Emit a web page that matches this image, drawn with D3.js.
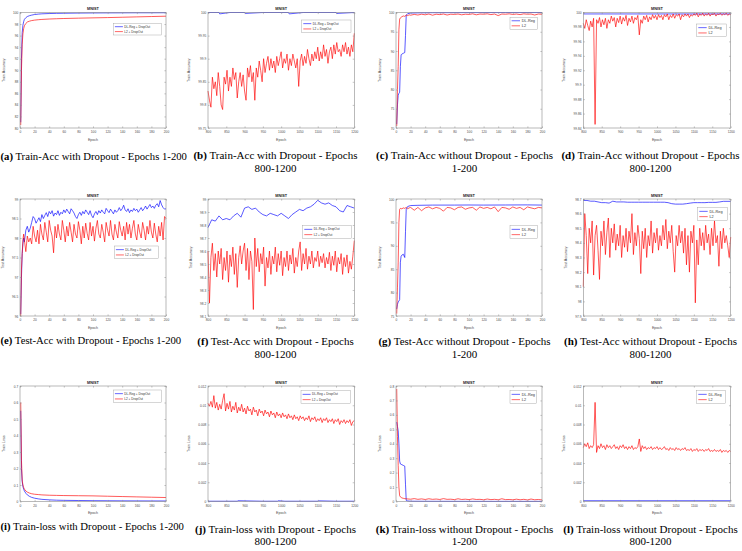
<!DOCTYPE html>
<html>
<head>
<meta charset="utf-8">
<script src="https://cdn.jsdelivr.net/npm/d3@7"></script>
<style>
  body { margin: 0; background: #fff; }
  svg { display: block; }
</style>
</head>
<body>
<div id="fig"></div>
<script>
// ---------- data ----------
const epochsLate = d3.range(800, 1201, 4);     // 800..1200 every 4 epochs
const epochsLate10 = d3.range(800, 1201, 10);  // 800..1200 every 10 epochs
const epochsE = [1, 2, 3, 4, 5].concat(d3.range(6, 201, 2));
const epochsEarly = [1, 2, 3, 4, 5, 6, 8, 10, 13, 16, 20, 25, 30, 40, 50, 60, 80, 100, 120, 140, 160, 180, 200];
const epochsNoisy = [1, 2, 3, 4, 5, 6, 8, 10, 12, 14, 16, 18, 20].concat(d3.range(25, 201, 5));
const epochsK = [1, 2, 3, 4, 5, 6, 8, 10, 12, 15, 20].concat(d3.range(25, 201, 5));

const xTicksEarly = [0, 20, 40, 60, 80, 100, 120, 140, 160, 180, 200];
const xTicksLate = [800, 850, 900, 950, 1000, 1050, 1100, 1150, 1200];

// (a) train acc, dropout, 1-200
const aBlue = [81, 92, 96.5, 97.8, 98.4, 98.8, 99.1, 99.3, 99.45, 99.55, 99.65, 99.72, 99.77, 99.82, 99.85, 99.87, 99.9, 99.92, 99.93, 99.94, 99.95, 99.95, 99.96];
const aRed = [80.5, 90, 94.5, 96.3, 97.2, 97.7, 98.1, 98.35, 98.5, 98.6, 98.68, 98.75, 98.8, 98.87, 98.92, 98.96, 99.02, 99.07, 99.12, 99.18, 99.24, 99.3, 99.36];

// (b) train acc, dropout, 800-1200
const bBlueX = [800, 830, 832, 860, 900, 902, 950, 1000, 1020, 1022, 1060, 1100, 1150, 1152, 1200];
const bBlue = [100, 100, 99.997, 100, 100, 99.998, 100, 100, 100, 99.997, 100, 100, 100, 99.998, 100];
const bRed = [99.83, 99.81, 99.795, 99.86, 99.835, 99.85, 99.82, 99.87, 99.84, 99.8, 99.79, 99.86, 99.845, 99.875, 99.83, 99.86, 99.84, 99.88, 99.855, 99.87,
  99.815, 99.85, 99.87, 99.84, 99.865, 99.83, 99.81, 99.88, 99.86, 99.885, 99.85, 99.87, 99.81, 99.88, 99.86, 99.895, 99.875, 99.85, 99.9, 99.87,
  99.89, 99.905, 99.875, 99.9, 99.88, 99.895, 99.87, 99.905, 99.885, 99.9, 99.915, 99.88, 99.9, 99.89, 99.91, 99.875, 99.9, 99.885, 99.91, 99.895,
  99.88, 99.9, 99.84, 99.895, 99.91, 99.885, 99.905, 99.89, 99.92, 99.9, 99.885, 99.91, 99.895, 99.915, 99.9, 99.925, 99.895, 99.915, 99.9, 99.93,
  99.905, 99.92, 99.89, 99.915, 99.925, 99.9, 99.93, 99.91, 99.935, 99.915, 99.92, 99.905, 99.93, 99.915, 99.935, 99.91, 99.925, 99.905, 99.93, 99.915, 99.955];

// (c) train acc, no dropout, 1-200
const cBlueX = [1, 2, 3, 4, 5, 6, 7, 8, 10, 12, 13, 14, 16, 20, 30, 50, 100, 150, 200];
const cBlue = [71, 76, 78.5, 79, 79.3, 86, 89, 89.2, 89.4, 89.6, 94, 99.3, 99.7, 99.85, 99.9, 99.95, 99.97, 99.98, 99.98];
const cRed = [70.5, 80, 86, 95.5, 98.3, 98.6, 98.9, 99.1, 99.0, 99.3, 99.2, 99.4, 99.3,
  99.5, 99.35, 99.55, 99.4, 99.6, 99.3, 99.55, 99.45, 99.6, 99.35, 99.55, 99.5, 99.6, 99.4, 99.55, 99.5, 99.65, 99.4, 99.6, 99.55,
  99.65, 99.45, 99.6, 99.2, 99.6, 99.55, 99.65, 99.5, 99.6, 99.45, 99.65, 99.55, 99.6, 99.35, 99.6, 99.55];

// (d) train acc, no dropout, 800-1200
const dBlueX = [800, 1200];
const dBlue = [99.998, 99.998];
const dRed = [99.985, 99.978, 99.99, 99.982, 99.975, 99.988, 99.98, 99.992, 99.845, 99.99, 99.985, 99.993, 99.98, 99.99, 99.983, 99.992, 99.978, 99.99, 99.985, 99.995,
  99.988, 99.993, 99.98, 99.992, 99.986, 99.995, 99.984, 99.993, 99.988, 99.996, 99.982, 99.992, 99.987, 99.995, 99.985, 99.993, 99.99, 99.996, 99.969, 99.99,
  99.985, 99.995, 99.99, 99.996, 99.987, 99.994, 99.99, 99.997, 99.992, 99.996, 99.99, 99.997, 99.993, 99.996, 99.99, 99.997, 99.994, 99.998, 99.99, 99.996,
  99.993, 99.998, 99.992, 99.997, 99.995, 99.998, 99.99, 99.997, 99.994, 99.998, 99.995, 99.998, 99.993, 99.997, 99.995, 99.998, 99.996, 99.999, 99.994, 99.998,
  99.996, 99.999, 99.995, 99.998, 99.996, 99.999, 99.995, 99.998, 99.997, 99.999, 99.995, 99.998, 99.997, 99.999, 99.996, 99.998, 99.997, 99.999, 99.996, 99.998, 99.997];

// (e) test acc, dropout, 1-200
const eBlue = [96.05, 97.0, 97.6, 97.85, 98.0, 97.9, 98.2, 98.3, 98.15, 98.25, 98.4, 98.55, 98.5, 98.38, 98.45, 98.52, 98.42, 98.6, 98.5, 98.58,
  98.65, 98.55, 98.68, 98.62, 98.7, 98.56, 98.64, 98.6, 98.7, 98.58, 98.66, 98.62, 98.72, 98.65, 98.74, 98.68, 98.62, 98.75, 98.7, 98.64,
  98.55, 98.5, 98.6, 98.66, 98.58, 98.68, 98.62, 98.72, 98.66, 98.6, 98.7, 98.58, 98.52, 98.62, 98.68, 98.6, 98.7, 98.64, 98.72, 98.66,
  98.62, 98.76, 98.7, 98.65, 98.74, 98.68, 98.62, 98.72, 98.66, 98.7, 98.78, 98.7, 98.75, 98.84, 98.72, 98.68, 98.75, 98.65, 98.72, 98.68,
  98.76, 98.7, 98.74, 98.66, 98.72, 98.78, 98.7, 98.75, 98.82, 98.74, 98.8, 98.86, 98.78, 98.82, 98.76, 98.84, 98.88, 98.8, 98.96, 98.85,
  98.78, 98.74, 98.75];
const eRed = [96.0, 97.2, 97.6, 97.95, 98.1, 97.95, 97.65, 98.05, 97.9, 98.0, 97.85, 98.3, 98.05, 97.9, 98.2, 97.85, 98.35, 98.1, 97.95, 98.4,
  98.15, 97.9, 98.45, 98.2, 98.05, 97.62, 98.3, 98.0, 98.35, 98.1, 97.95, 98.45, 98.2, 97.9, 98.3, 98.05, 98.4, 98.15, 97.9, 98.35,
  98.1, 98.0, 98.42, 98.2, 97.85, 98.3, 98.0, 98.38, 98.12, 97.95, 98.4, 98.05, 98.3, 97.92, 98.25, 98.45, 98.1, 98.0, 98.35, 98.15,
  97.9, 98.4, 98.2, 98.05, 98.45, 98.1, 97.95, 98.35, 98.15, 98.0, 98.42, 98.2, 98.05, 98.3, 97.95, 98.4, 98.1, 98.35, 98.0, 98.25,
  98.45, 98.1, 97.95, 98.35, 98.15, 98.0, 98.4, 98.2, 97.95, 98.3, 98.1, 98.45, 98.15, 98.0, 98.38, 98.1, 97.9, 98.3, 98.05, 98.4,
  97.95, 98.55, 98.5];

// (f) test acc, dropout, 800-1200
const fBlue = [98.78, 98.84, 98.83, 98.87, 98.84, 98.85, 98.84, 98.87, 98.89, 98.86, 98.93, 98.94, 98.92, 98.93, 98.9, 98.88, 98.87, 98.89, 98.88, 98.87,
  98.89, 98.87, 98.85, 98.88, 98.9, 98.92, 98.91, 98.93, 98.94, 98.96, 98.99, 98.97, 98.96, 98.97, 98.95, 98.94, 98.91, 98.9, 98.95, 98.94, 98.93];
const fRed = [98.6, 98.2, 98.55, 98.66, 98.45, 98.58, 98.4, 98.6, 98.5, 98.62, 98.38, 98.55, 98.45, 98.6, 98.36, 98.57, 98.48, 98.63, 98.42, 98.58,
  98.32, 98.55, 98.64, 98.5, 98.6, 98.66, 98.45, 98.62, 98.38, 98.6, 98.52, 98.15, 98.7, 98.48, 98.62, 98.44, 98.58, 98.5, 98.63, 98.33,
  98.55, 98.47, 98.6, 98.42, 98.56, 98.5, 98.63, 98.44, 98.58, 98.49, 98.6, 98.41, 98.55, 98.48, 98.6, 98.45, 98.57, 98.5, 98.62, 98.43,
  98.55, 98.48, 98.6, 98.67, 98.45, 98.58, 98.5, 98.62, 98.46, 98.56, 98.5, 98.6, 98.47, 98.55, 98.52, 98.6, 98.48, 98.56, 98.51, 98.58,
  98.47, 98.55, 98.5, 98.59, 98.45, 98.56, 98.49, 98.6, 98.44, 98.55, 98.5, 98.58, 98.42, 98.55, 98.48, 98.57, 98.43, 98.52, 98.46, 98.56, 98.68];

// (g) test acc, no dropout, 1-200
const gBlueX = [1, 2, 3, 4, 5, 6, 7, 8, 10, 12, 13, 14, 16, 20, 30, 50, 80, 100, 120, 150, 180, 200];
const gBlue = [76.5, 77.5, 78, 78.2, 78.5, 86.5, 87.8, 88, 88.2, 87.5, 93, 97.8, 98.4, 98.6, 98.65, 98.7, 98.7, 98.72, 98.7, 98.72, 98.74, 98.7];
const gRed = [75.5, 81, 86.5, 95, 97.8, 98.0, 97.9, 98.1, 98.0, 98.2, 97.9, 98.1, 98.2,
  97.6, 98.2, 97.5, 98.1, 98.3, 97.9, 98.2, 98.0, 97.4, 98.2, 98.1, 97.7, 98.2, 98.3, 97.8, 98.1, 98.2, 97.6, 98.3, 98.0,
  98.2, 97.9, 98.3, 97.3, 98.2, 98.1, 97.8, 98.3, 98.0, 98.2, 97.7, 98.3, 98.1, 97.9, 98.2, 98.1];

// (h) test acc, no dropout, 800-1200
const hBlue = [98.69, 98.69, 98.685, 98.685, 98.68, 98.675, 98.675, 98.672, 98.685, 98.68, 98.68, 98.68, 98.678, 98.678, 98.678, 98.678, 98.678, 98.678, 98.678, 98.678,
  98.678, 98.678, 98.678, 98.675, 98.668, 98.665, 98.665, 98.665, 98.668, 98.672, 98.675, 98.675, 98.675, 98.675, 98.677, 98.677, 98.677, 98.68, 98.684, 98.684, 98.684];
const hRed = [98.1, 98.6, 98.45, 98.19, 98.5, 98.4, 98.55, 98.18, 98.45, 98.52, 98.35, 98.15, 98.48, 98.38, 98.55, 98.32, 98.47, 98.57, 98.3, 98.5,
  98.4, 98.53, 98.35, 98.46, 98.38, 98.52, 98.3, 98.45, 98.37, 98.5, 98.34, 98.48, 98.4, 98.6, 98.32, 98.47, 98.38, 98.52, 98.43, 98.19,
  98.48, 98.36, 98.5, 98.3, 98.45, 98.38, 98.55, 98.33, 98.47, 98.4, 98.5, 98.35, 98.45, 98.38, 98.52, 98.42, 98.56, 98.36, 98.48, 98.4,
  98.52, 98.34, 98.2, 98.45, 98.38, 98.52, 98.4, 98.48, 98.33, 98.5, 98.25, 98.45, 98.2, 98.48, 98.4, 98.52, 97.99, 98.42, 98.25, 98.5,
  98.38, 98.47, 98.35, 98.52, 98.4, 98.46, 98.32, 98.5, 98.38, 98.55, 98.4, 98.45, 98.24, 98.48, 98.36, 98.5, 98.4, 98.45, 98.38, 98.3, 98.44];

// (i) train loss, dropout, 1-200
const iBlue = [0.55, 0.2, 0.12, 0.09, 0.075, 0.064, 0.05, 0.04, 0.031, 0.025, 0.02, 0.016, 0.013, 0.01, 0.008, 0.007, 0.006, 0.005, 0.0045, 0.004, 0.0037, 0.0035, 0.0033];
const iRed = [0.6, 0.25, 0.13, 0.1, 0.085, 0.075, 0.064, 0.057, 0.051, 0.047, 0.044, 0.042, 0.04, 0.038, 0.037, 0.036, 0.035, 0.034, 0.032, 0.03, 0.028, 0.026, 0.024];

// (j) train loss, dropout, 800-1200
const jBlueX = [800, 880, 882, 950, 990, 992, 1010, 1060, 1100, 1102, 1150, 1200];
const jBlue = [0.00003, 0.00003, 0.00008, 0.00003, 0.00003, 0.00008, 0.00003, 0.00003, 0.00003, 0.00007, 0.00003, 0.00003];
const jRed = [0.0102, 0.0099, 0.0104, 0.0098, 0.011, 0.0097, 0.0103, 0.0095, 0.0101, 0.0096, 0.0105, 0.0112, 0.0094, 0.0102, 0.0096, 0.0104, 0.0093, 0.0099, 0.0095, 0.0103,
  0.0092, 0.0098, 0.0094, 0.0101, 0.0093, 0.0097, 0.0091, 0.0099, 0.0094, 0.0096, 0.009, 0.0098, 0.0093, 0.0095, 0.0089, 0.0096, 0.0092, 0.0094, 0.0089, 0.0095,
  0.0091, 0.0093, 0.0088, 0.0094, 0.009, 0.0092, 0.0087, 0.0093, 0.0089, 0.0091, 0.0087, 0.0092, 0.0088, 0.009, 0.0086, 0.0091, 0.0087, 0.0089, 0.0085, 0.009,
  0.0086, 0.0088, 0.0084, 0.0089, 0.0086, 0.0088, 0.0084, 0.0087, 0.0085, 0.0089, 0.0083, 0.0087, 0.0085, 0.0088, 0.0083, 0.0086, 0.0084, 0.0087, 0.0082, 0.0086,
  0.0084, 0.0087, 0.0082, 0.0085, 0.0083, 0.0086, 0.0081, 0.0085, 0.0083, 0.0086, 0.008, 0.0084, 0.0082, 0.0085, 0.0081, 0.0084, 0.0082, 0.0085, 0.0079, 0.0083, 0.0084];

// (k) train loss, no dropout, 1-200
const kBlueX = [1, 2, 3, 4, 5, 6, 8, 10, 12, 13, 14, 16, 20, 40, 100, 200];
const kBlue = [0.55, 0.52, 0.49, 0.4, 0.28, 0.26, 0.255, 0.25, 0.245, 0.12, 0.008, 0.004, 0.002, 0.0015, 0.001, 0.001];
const kRed = [0.78, 0.45, 0.25, 0.1, 0.04, 0.032, 0.025, 0.022, 0.02, 0.018, 0.016,
  0.02, 0.015, 0.018, 0.014, 0.019, 0.015, 0.017, 0.014, 0.02, 0.015, 0.016, 0.013, 0.019, 0.014, 0.016, 0.013, 0.018, 0.014,
  0.015, 0.012, 0.017, 0.013, 0.015, 0.012, 0.019, 0.013, 0.014, 0.012, 0.016, 0.012, 0.015, 0.011, 0.017, 0.012, 0.014, 0.011];

// (l) train loss, no dropout, 800-1200
const lBlueX = [800, 1200];
const lBlue = [0.00008, 0.00008];
const lRed = [0.0056, 0.006, 0.0057, 0.0061, 0.0055, 0.0058, 0.0056, 0.0059, 0.0103, 0.0051, 0.0058, 0.0055, 0.006, 0.0056, 0.0058, 0.0054, 0.0059, 0.0056, 0.0058, 0.0055,
  0.0057, 0.0059, 0.0055, 0.0057, 0.0054, 0.0058, 0.0056, 0.0059, 0.0055, 0.0057, 0.0054, 0.0057, 0.0055, 0.0058, 0.0054, 0.0056, 0.0055, 0.0057, 0.0065, 0.0052,
  0.0058, 0.0055, 0.0057, 0.0054, 0.0056, 0.0055, 0.0057, 0.0054, 0.0056, 0.0055, 0.0057, 0.0054, 0.0056, 0.0054, 0.0055, 0.0057, 0.0054, 0.0055, 0.0053, 0.0056,
  0.0054, 0.0055, 0.0053, 0.0056, 0.0054, 0.0055, 0.0053, 0.0055, 0.0054, 0.0056, 0.0053, 0.0054, 0.0053, 0.0055, 0.0052, 0.0054, 0.0053, 0.0055, 0.0052, 0.0054,
  0.0053, 0.0054, 0.0052, 0.0054, 0.0053, 0.0055, 0.0052, 0.0053, 0.0052, 0.0054, 0.0052, 0.0053, 0.0052, 0.0054, 0.0051, 0.0053, 0.0052, 0.0053, 0.0051, 0.0053, 0.0052];

const legDrop = ["DL-Reg + DropOut", "L2 + DropOut"];
const legNoDrop = ["DL-Reg", "L2"];

// ---------- layout / style ----------
const BLUE = "#0000ff", RED = "#ff0000";
const axisColor = "#8a8a8a", tickColor = "#4a4a4a";
const sans = "Liberation Sans, Arial, sans-serif";
const serif = "Liberation Serif, Times New Roman, serif";
const colX = [20, 208, 396, 583.3];
const colW = [146, 146.3, 146, 147.4];
const capCx = [87, 275.5, 464.5, 650.5];
const rowY = [12.5, 199, 386];
const rowH = [115.5, 117, 115.5];
const capY1 = [160.2, 343.5, 530.2];           // single-line captions
const capY2 = [[159.2, 171.8], [345, 357.8], [532.8, 545.2]];

const panels = [
  { r: 0, c: 0, tag: "(a)", cap: ["Train-Acc with Dropout - Epochs 1-200"], yLabel: "Train Accuracy",
    xd: [0, 200], xt: xTicksEarly, yd: [80, 100], yt: [80, 82, 84, 86, 88, 90, 92, 94, 96, 98, 100],
    leg: legDrop, lb: [93.3, 10.8, 48.4, 11.7],
    s: [[epochsEarly, aBlue, BLUE], [epochsEarly, aRed, RED]] },
  { r: 0, c: 1, tag: "(b)", cap: ["Train-Acc with Dropout - Epochs", "800-1200"], yLabel: "Train Accuracy",
    xd: [800, 1200], xt: xTicksLate, yd: [99.75, 100], yt: [99.75, 99.8, 99.85, 99.9, 99.95, 100],
    leg: legDrop, lb: [93.7, 7.5, 49.3, 12.6],
    s: [[bBlueX, bBlue, BLUE], [epochsLate, bRed, RED]] },
  { r: 0, c: 2, tag: "(c)", cap: ["Train-Acc without Dropout - Epochs", "1-200"], yLabel: "Train Accuracy",
    xd: [0, 200], xt: xTicksEarly, yd: [70, 100], yt: [70, 75, 80, 85, 90, 95, 100],
    leg: legNoDrop, lb: [114, 4.8, 27.3, 12],
    s: [[cBlueX, cBlue, BLUE], [epochsNoisy, cRed, RED]] },
  { r: 0, c: 3, tag: "(d)", cap: ["Train-Acc without Dropout - Epochs", "800-1200"], yLabel: "Train Accuracy",
    xd: [800, 1200], xt: xTicksLate, yd: [99.84, 100], yt: [99.84, 99.86, 99.88, 99.9, 99.92, 99.94, 99.96, 99.98, 100],
    leg: legNoDrop, lb: [113.4, 11.5, 30, 12.6],
    s: [[dBlueX, dBlue, BLUE], [epochsLate, dRed, RED]] },
  { r: 1, c: 0, tag: "(e)", cap: ["Test-Acc with Dropout - Epochs 1-200"], yLabel: "Test Accuracy",
    xd: [0, 200], xt: xTicksEarly, yd: [96, 99], yt: [96, 96.5, 97, 97.5, 98, 98.5, 99],
    leg: legDrop, lb: [94.3, 47, 44, 12.6],
    s: [[epochsE, eBlue, BLUE], [epochsE, eRed, RED]] },
  { r: 1, c: 1, tag: "(f)", cap: ["Test-Acc with Dropout - Epochs", "800-1200"], yLabel: "Test Accuracy",
    xd: [800, 1200], xt: xTicksLate, yd: [98.1, 99], yt: [98.1, 98.2, 98.3, 98.4, 98.5, 98.6, 98.7, 98.8, 98.9, 99],
    leg: legDrop, lb: [94.7, 26.7, 49, 12.6],
    s: [[epochsLate10, fBlue, BLUE], [epochsLate, fRed, RED]] },
  { r: 1, c: 2, tag: "(g)", cap: ["Test-Acc without Dropout - Epochs", "1-200"], yLabel: "Test Accuracy",
    xd: [0, 200], xt: xTicksEarly, yd: [75, 100], yt: [75, 80, 85, 90, 95, 100],
    leg: legNoDrop, lb: [114, 26.7, 27.3, 12.6],
    s: [[gBlueX, gBlue, BLUE], [epochsNoisy, gRed, RED]] },
  { r: 1, c: 3, tag: "(h)", cap: ["Test-Acc without Dropout - Epochs", "800-1200"], yLabel: "Test Accuracy",
    xd: [800, 1200], xt: xTicksLate, yd: [97.9, 98.7], yt: [97.9, 98, 98.1, 98.2, 98.3, 98.4, 98.5, 98.6, 98.7],
    leg: legNoDrop, lb: [114.4, 8.7, 29.6, 12.6],
    s: [[epochsLate10, hBlue, BLUE], [epochsLate, hRed, RED]] },
  { r: 2, c: 0, tag: "(i)", cap: ["Train-loss with Dropout - Epochs 1-200"], yLabel: "Train Loss",
    xd: [0, 200], xt: xTicksEarly, yd: [0, 0.7], yt: [0, 0.1, 0.2, 0.3, 0.4, 0.5, 0.6, 0.7],
    leg: legDrop, lb: [93.3, 4, 48.4, 12.6],
    s: [[epochsEarly, iBlue, BLUE], [epochsEarly, iRed, RED]] },
  { r: 2, c: 1, tag: "(j)", cap: ["Train-loss with Dropout - Epochs", "800-1200"], yLabel: "Train Loss",
    xd: [800, 1200], xt: xTicksLate, yd: [0, 0.012], yt: [0, 0.002, 0.004, 0.006, 0.008, 0.01, 0.012],
    leg: legDrop, lb: [93, 4.7, 49.7, 12.6],
    s: [[jBlueX, jBlue, BLUE], [epochsLate, jRed, RED]] },
  { r: 2, c: 2, tag: "(k)", cap: ["Train-loss without Dropout - Epochs", "1-200"], yLabel: "Train Loss",
    xd: [0, 200], xt: xTicksEarly, yd: [0, 0.8], yt: [0, 0.1, 0.2, 0.3, 0.4, 0.5, 0.6, 0.7, 0.8],
    leg: legNoDrop, lb: [114, 4.7, 26.7, 12.6],
    s: [[kBlueX, kBlue, BLUE], [epochsK, kRed, RED]] },
  { r: 2, c: 3, tag: "(l)", cap: ["Train-loss without Dropout - Epochs", "800-1200"], yLabel: "Train Loss",
    xd: [800, 1200], xt: xTicksLate, yd: [0, 0.012], yt: [0, 0.002, 0.004, 0.006, 0.008, 0.01, 0.012],
    leg: legNoDrop, lb: [113.4, 4.7, 29, 12.6],
    s: [[lBlueX, lBlue, BLUE], [epochsLate, lRed, RED]] }
];

const svg = d3.select("#fig").append("svg").attr("width", 742).attr("height", 551);
const fmt = v => String(+v.toFixed(4));

function drawPanel(p) {
  const bx = colX[p.c], by = rowY[p.r], w = colW[p.c], h = rowH[p.r];
  const g = svg.append("g").attr("transform", `translate(${bx},${by})`);
  const x = d3.scaleLinear().domain(p.xd).range([0, w]);
  const y = d3.scaleLinear().domain(p.yd).range([h, 0]);

  // series
  const line = d3.line().x(d => x(d[0])).y(d => y(d[1]));
  p.s.forEach(([xs, ys, col]) => {
    g.append("path").datum(d3.zip(xs, ys)).attr("d", line)
      .attr("fill", "none").attr("stroke", col).attr("stroke-width", 0.65)
      .attr("stroke-linejoin", "round");
  });

  // box + inward ticks on all sides
  const tk = 1.6;
  const axB = g.append("g").attr("transform", `translate(0,${h})`)
    .call(d3.axisBottom(x).tickValues(p.xt).tickSizeInner(-tk).tickSizeOuter(0).tickPadding(3.2).tickFormat(fmt));
  const axT = g.append("g")
    .call(d3.axisTop(x).tickValues(p.xt).tickSizeInner(-tk).tickSizeOuter(0).tickFormat(""));
  const axL = g.append("g")
    .call(d3.axisLeft(y).tickValues(p.yt).tickSizeInner(-tk).tickSizeOuter(0).tickPadding(1.8).tickFormat(fmt));
  const axR = g.append("g").attr("transform", `translate(${w},0)`)
    .call(d3.axisRight(y).tickValues(p.yt).tickSizeInner(-tk).tickSizeOuter(0).tickFormat(""));
  [axB, axT, axL, axR].forEach(a => {
    a.select(".domain").remove();
    a.selectAll("line").attr("stroke", axisColor).attr("stroke-width", 0.5);
    a.selectAll("text").attr("font-size", 3.2).attr("font-family", sans).attr("fill", tickColor);
  });
  g.append("rect").attr("width", w).attr("height", h)
    .attr("fill", "none").attr("stroke", axisColor).attr("stroke-width", 0.6);

  // title and axis labels
  g.append("text").attr("x", w / 2).attr("y", -2.4).attr("text-anchor", "middle")
    .attr("font-family", sans).attr("font-size", 3.8).attr("font-weight", "bold").attr("fill", "#222")
    .text("MNIST");
  g.append("text").attr("x", w / 2).attr("y", h + 12.6).attr("text-anchor", "middle")
    .attr("font-family", sans).attr("font-size", 3.6).attr("fill", tickColor)
    .text("Epoch");
  const tickW = axL.node().getBBox().width;
  g.append("text").attr("transform", `translate(${-(tickW + 8)},${h / 2}) rotate(-90)`)
    .attr("text-anchor", "middle").attr("dy", "0.35em")
    .attr("font-family", sans).attr("font-size", 3.6).attr("fill", tickColor)
    .text(p.yLabel);

  // legend (the no-dropout figures were exported with a larger legend font)
  const [lx, ly, lw, lh] = p.lb;
  const small = p.leg === legDrop;
  const lg = g.append("g").attr("transform", `translate(${lx},${ly})`);
  lg.append("rect").attr("width", lw).attr("height", lh)
    .attr("fill", "#fff").attr("stroke", "#9a9a9a").attr("stroke-width", 0.4);
  p.leg.forEach((name, i) => {
    const yy = lh * (i === 0 ? 0.29 : 0.71);
    lg.append("line").attr("x1", 1.6).attr("x2", small ? 9.6 : 10).attr("y1", yy).attr("y2", yy)
      .attr("stroke", i === 0 ? BLUE : RED).attr("stroke-width", 0.6);
    lg.append("text").attr("x", small ? 11 : 11.8).attr("y", yy).attr("dy", "0.35em")
      .attr("font-family", sans).attr("font-size", small ? 3.1 : 3.8).attr("fill", "#333")
      .text(name);
  });

  // sub-caption
  if (p.cap.length === 1) {
    const t = svg.append("text").attr("x", colX[p.c] - 19.5).attr("y", capY1[p.r])
      .attr("font-family", serif).attr("font-size", 10.7).attr("fill", "#000");
    t.append("tspan").attr("font-weight", "bold").text(p.tag);
    t.append("tspan").text(" " + p.cap[0]);
  } else {
    const cx = capCx[p.c];
    const t = svg.append("text").attr("x", cx).attr("y", capY2[p.r][0]).attr("text-anchor", "middle")
      .attr("font-family", serif).attr("font-size", 11).attr("fill", "#000");
    t.append("tspan").attr("font-weight", "bold").text(p.tag);
    t.append("tspan").text(" " + p.cap[0]);
    svg.append("text").attr("x", cx).attr("y", capY2[p.r][1]).attr("text-anchor", "middle")
      .attr("font-family", serif).attr("font-size", 11).attr("fill", "#000")
      .text(p.cap[1]);
  }
}

panels.forEach(drawPanel);
</script>
</body>
</html>
